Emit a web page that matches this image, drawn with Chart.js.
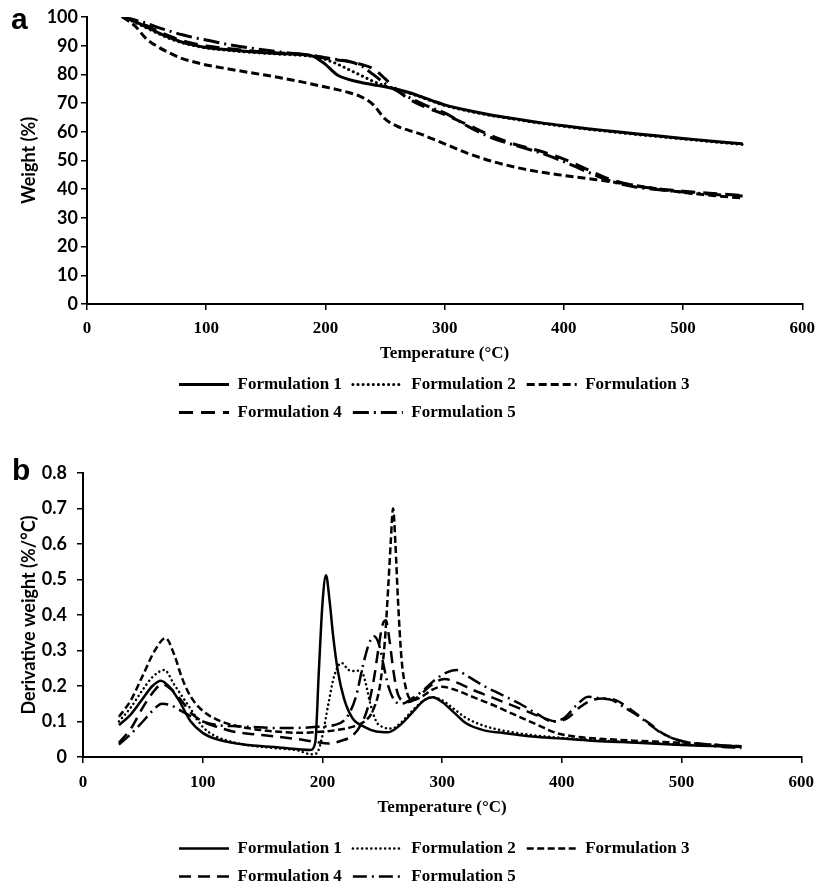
<!DOCTYPE html>
<html><head><meta charset="utf-8">
<script src="https://cdn.jsdelivr.net/npm/chart.js@4.4.1/dist/chart.umd.min.js"></script>
<style>
html,body{margin:0;padding:0;background:#fff;width:823px;height:889px;overflow:hidden}
canvas{position:absolute;left:0}
#ca{top:0}
#cb{top:430px}
.lbl{position:absolute;font-family:"Liberation Sans",Arial,sans-serif;font-weight:bold;font-size:30px;line-height:1;color:#000}
</style></head><body>
<canvas id="ca" width="823" height="430"></canvas>
<canvas id="cb" width="823" height="459"></canvas>
<div class="lbl" style="left:11px;top:4px">a</div>
<div class="lbl" style="left:12px;top:455px">b</div>
<script>
// ---------- data ----------
const seriesNames = ['Formulation 1','Formulation 2','Formulation 3','Formulation 4','Formulation 5'];
const xTicks = [0,100,200,300,400,500,600];

// panel a: weight (%) vs temperature
const tempA = [30,40,50,60,70,80,90,100,120,140,160,180,190,200,210,220,230,240,250,260,270,280,290,300,320,340,360,380,400,420,440,460,480,500,525,550];
const weight1 = [100,98.5,96.5,94.5,92.7,91.2,90.2,89.4,88.5,87.8,87.3,86.9,86.3,83.5,79.8,78.2,77.2,76.4,75.7,74.8,73.7,72.3,70.8,69.4,67.4,65.8,64.5,63.2,62.1,61.1,60.2,59.3,58.5,57.7,56.7,55.8];
const weight2 = [100,98.2,96.2,94.2,92.4,91,90,89.2,88.3,87.6,87.1,86.6,86.2,85.2,83.6,81.6,79.6,77.6,76,74.7,73.5,72.1,70.6,69.2,67.2,65.6,64.3,63,61.9,60.9,60,59.1,58.3,57.5,56.5,55.6];
const weight3 = [100,97,92.3,89.5,87.3,85.5,84.3,83.3,81.8,80.4,79,77.4,76.5,75.6,74.7,73.6,72.2,69.5,64.5,62,60.5,59.2,57.5,55.8,52.4,49.7,47.6,46,44.8,43.7,42.6,41.3,40,38.9,37.8,36.9];
const weight4 = [100,98.6,97,95,93.2,91.7,90.7,89.9,88.9,88.1,87.5,87,86.6,85.6,85,84.5,83.5,82,78.5,74.5,71.5,69.3,67.6,66,62.3,58.5,55.5,53.3,50.5,46.8,43.3,41.2,40.1,39.3,38.5,37.8];
const weight5 = [100,99,97.8,96.3,95,93.8,92.8,92,90.3,89,87.9,87,86.5,85.8,85.2,84.5,83,80,76.8,74.3,72,70,68.2,66.6,61.8,57.8,55.2,52.7,49.6,46,42.7,40.8,39.8,39,38.2,37.6];
const yTicksA = [0,10,20,30,40,50,60,70,80,90,100];

// panel b: derivative weight (%/°C) vs temperature
const tempB1 = [30,40,50,58,65,72,80,90,100,110,125,140,160,180,190,194,197,200,203,206,209,213,218,225,235,245,255,265,275,285,292,300,310,320,335,350,375,400,425,450,475,500,525,550];
const deriv1 = [0.09,0.12,0.165,0.2,0.215,0.198,0.16,0.1,0.068,0.052,0.04,0.033,0.028,0.022,0.02,0.04,0.24,0.43,0.512,0.44,0.34,0.24,0.165,0.11,0.085,0.072,0.07,0.09,0.125,0.16,0.168,0.155,0.125,0.095,0.075,0.068,0.058,0.052,0.046,0.042,0.038,0.034,0.031,0.028];
const tempB2 = [30,40,50,58,68,76,84,92,100,110,125,140,160,180,190,195,200,205,210,216,222,228,232,236,240,245,250,258,265,275,285,292,300,310,320,335,350,375,400,425,450,475,500,525,550];
const deriv2 = [0.1,0.14,0.19,0.225,0.245,0.205,0.165,0.125,0.085,0.06,0.042,0.032,0.025,0.018,0.008,0.01,0.06,0.15,0.23,0.265,0.245,0.242,0.245,0.21,0.15,0.1,0.085,0.08,0.095,0.13,0.16,0.168,0.16,0.135,0.11,0.088,0.075,0.062,0.054,0.048,0.043,0.039,0.035,0.032,0.03];
const tempB3 = [30,40,50,60,69,76,83,90,100,112,125,140,160,180,195,210,225,235,242,248,252,255,257,259,261,263,266,270,275,283,292,300,310,325,340,360,380,395,410,430,460,500,525,550];
const deriv3 = [0.113,0.16,0.23,0.3,0.335,0.29,0.22,0.17,0.13,0.105,0.09,0.08,0.072,0.068,0.07,0.075,0.085,0.1,0.13,0.2,0.32,0.48,0.6,0.7,0.6,0.45,0.28,0.19,0.16,0.17,0.19,0.198,0.19,0.17,0.15,0.12,0.09,0.068,0.058,0.052,0.046,0.04,0.035,0.03];
const tempB4 = [30,40,50,58,66,74,82,90,100,112,125,140,160,180,195,205,215,225,232,238,243,247,250,253,256,259,262,266,272,280,290,302,312,325,340,355,370,385,395,405,415,425,435,445,455,465,475,485,500,525,550];
const deriv4 = [0.04,0.08,0.14,0.18,0.205,0.19,0.16,0.125,0.1,0.085,0.072,0.065,0.058,0.05,0.042,0.038,0.045,0.06,0.09,0.14,0.22,0.31,0.37,0.385,0.33,0.25,0.19,0.16,0.155,0.17,0.2,0.22,0.21,0.19,0.17,0.15,0.13,0.11,0.1,0.11,0.14,0.16,0.165,0.16,0.14,0.115,0.09,0.065,0.045,0.035,0.03];
const tempB5 = [30,40,50,58,66,74,82,90,100,112,125,140,160,180,195,210,220,228,234,239,243,247,251,255,260,266,275,285,295,305,312,320,335,350,365,380,392,402,412,422,432,442,452,462,472,482,495,510,530,550];
const deriv5 = [0.035,0.065,0.1,0.13,0.15,0.145,0.13,0.115,0.1,0.09,0.087,0.085,0.082,0.082,0.085,0.09,0.11,0.17,0.26,0.32,0.34,0.32,0.26,0.2,0.16,0.15,0.165,0.19,0.22,0.24,0.245,0.23,0.2,0.175,0.15,0.12,0.1,0.11,0.145,0.17,0.165,0.16,0.14,0.12,0.095,0.07,0.05,0.038,0.03,0.025];
const yTicksB = [0,0.1,0.2,0.3,0.4,0.5,0.6,0.7,0.8];

// ---------- styles ----------
const SERIF = '"Liberation Serif","Times New Roman",serif';
const SANS = 'Lato,"Open Sans",sans-serif';
const dashA = [[], [0.1,5], [8,4], [14,8], [16,5,2,5]];
const capA = ['butt','round','butt','butt','butt'];
const dashB = [[], [0.1,4.5], [7,3.5], [12,7], [14,5,2,5]];

function pts(xs, ys){ return xs.map((x,i)=>({x:x, y:ys[i]})); }

function makeDatasets(pairs, dashes, width){
  return pairs.map((p,i)=>({
    label: seriesNames[i],
    data: pts(p[0], p[1]),
    borderColor:'#000', backgroundColor:'#000',
    borderWidth: width, borderDash: dashes[i], borderCapStyle: capA[i],
    pointRadius:0, fill:false, cubicInterpolationMode:'monotone'
  }));
}

function legendLabels(chart){
  const items = Chart.defaults.plugins.legend.labels.generateLabels(chart);
  items.forEach(it=>{
    const ds = chart.data.datasets[it.datasetIndex];
    it.lineDash = ds.borderDash;
    it.lineCap = ds.borderCapStyle;
    it.lineWidth = ds.borderWidth;
    it.strokeStyle = '#000';
    it.fillStyle = '#000';
    it.pointStyle = 'line';
  });
  return items;
}

function makeConfig(o){
  return {
    type:'line',
    data:{datasets: o.datasets},
    options:{
      responsive:false, animation:false, devicePixelRatio:1,
      layout:{padding:{top:o.padTop,right:o.padRight,left:0,bottom:0}},
      plugins:{
        tooltip:{enabled:false},
        legend:{
          display:true, position:'bottom', align:'start',
          labels:{
            usePointStyle:true, pointStyle:'line', pointStyleWidth:50,
            padding:11, color:'#000', generateLabels:legendLabels,
            font:{family:SERIF, weight:'bold', size:17}
          }
        }
      },
      scales:{
        x:{
          type:'linear', min:0, max:600,
          afterBuildTicks(s){ s.ticks = xTicks.map(v=>({value:v})); },
          afterFit(s){ s.height = s.chart.height - s.chart.legend.height - o.plotBottom; },
          grid:{drawOnChartArea:false, drawTicks:true, tickLength:6, color:'#000', lineWidth:1.5},
          border:{display:true, color:'#000', width:2},
          ticks:{color:'#000', padding:o.xTickPad, maxRotation:0, font:{family:SERIF, weight:'bold', size:17}},
          title:{display:true, text:'Temperature (°C)', color:'#000', padding:{top:0,bottom:o.xTitlePad}, font:{family:SERIF, weight:'bold', size:17}}
        },
        y:{
          type:'linear', min:o.yMin, max:o.yMax,
          afterBuildTicks(s){ s.ticks = o.yTicks.map(v=>({value:v})); },
          afterFit(s){ s.width = o.plotLeft; },
          grid:{drawOnChartArea:false, drawTicks:true, tickLength:6, color:'#000', lineWidth:1.5},
          border:{display:true, color:'#000', width:2},
          ticks:{color:'#000', padding:o.yTickPad, font:{family:SANS, weight:'bold', size:18},
                 callback:o.yFmt},
          title:{display:true, text:o.yTitle, color:'#000', padding:{top:18,bottom:0}, font:{family:SANS, weight:'bold', size:18}}
        }
      }
    },
    plugins:[{
      id:'placeLegend',
      afterLayout(chart){
        const lg = chart.legend; const h = lg.height;
        lg.left = o.legendLeft; lg.right = o.legendLeft + 545; lg.width = 545;
        lg.top = o.legendTop; lg.bottom = o.legendTop + h;
      }
    }]
  };
}

new Chart(document.getElementById('ca'), makeConfig({
  datasets: makeDatasets([[tempA,weight1],[tempA,weight2],[tempA,weight3],[tempA,weight4],[tempA,weight5]], dashA, 3),
  padTop:17, padRight:17, plotLeft:87, plotBottom:304,
  xTickPad:8, xTitlePad:0, yTickPad:3,
  yMin:0, yMax:100, yTicks:yTicksA, yFmt:(v)=>String(v),
  yTitle:'Weight (%)',
  legendLeft:168, legendTop:365
}));

new Chart(document.getElementById('cb'), makeConfig({
  datasets: makeDatasets([[tempB1,deriv1],[tempB2,deriv2],[tempB3,deriv3],[tempB4,deriv4],[tempB5,deriv5]], dashB, 2.5),
  padTop:43, padRight:16, plotLeft:83, plotBottom:327,
  xTickPad:9, xTitlePad:5, yTickPad:10,
  yMin:0, yMax:0.8, yTicks:yTicksB, yFmt:(v)=> v===0 ? '0' : Number(v).toFixed(1),
  yTitle:'Derivative weight (%/°C)',
  legendLeft:168, legendTop:399
}));
</script>
</body></html>
